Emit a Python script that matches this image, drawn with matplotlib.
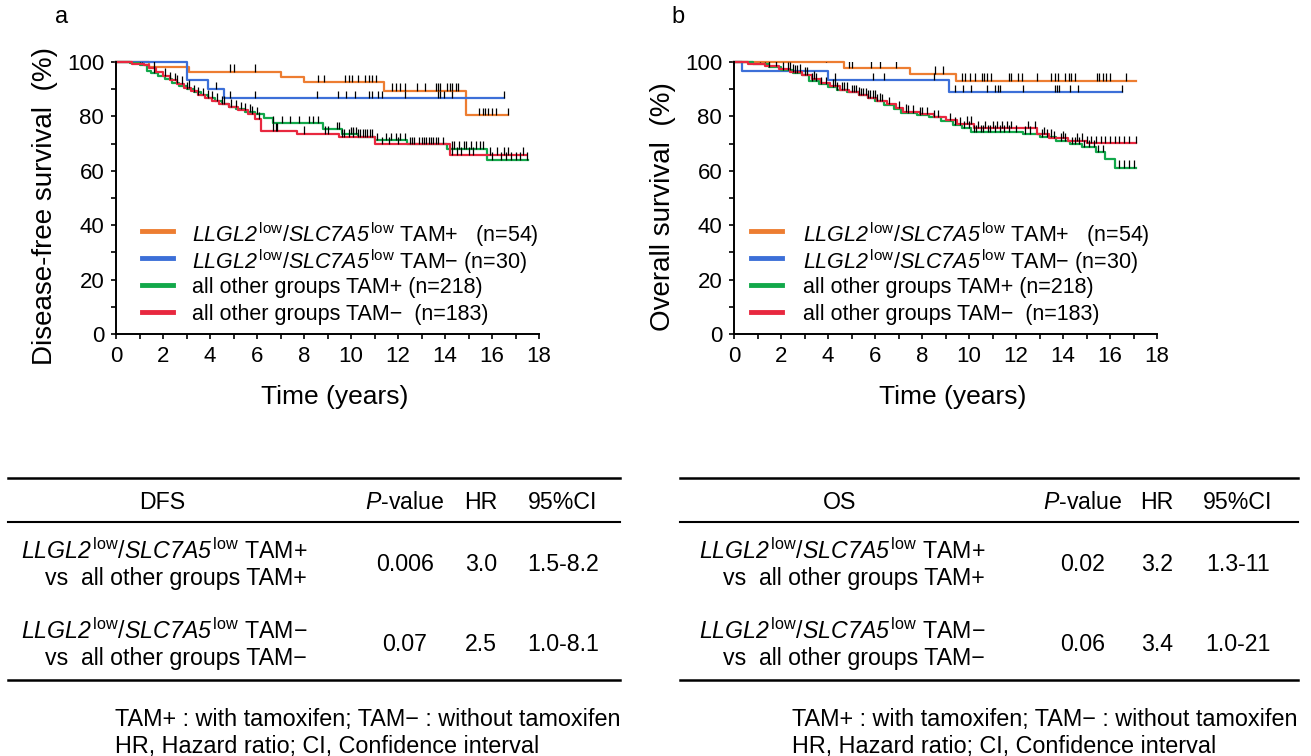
import numpy as np
import matplotlib.pyplot as plt
from matplotlib.lines import Line2D
from matplotlib.ticker import MultipleLocator

plt.rcParams['font.family'] = ['Liberation Sans', 'DejaVu Sans']
# rm is italic so that the digits of gene names are slanted too; sf stays upright
plt.rcParams['mathtext.fontset'] = 'custom'
plt.rcParams['mathtext.rm'] = 'Liberation Sans:italic'
plt.rcParams['mathtext.it'] = 'Liberation Sans:italic'
plt.rcParams['mathtext.sf'] = 'Liberation Sans'
plt.rcParams['mathtext.bf'] = 'Liberation Sans:bold'

W, H = 1311, 756

# ---- panel a: disease-free survival (event time, survival % after event) ----
dfs_orange_t = [1.4, 3.1, 7.0, 8.0, 11.4, 14.9]
dfs_orange_s = [98.1, 96.3, 94.4, 92.6, 89.3, 80.4]
dfs_orange_end = 16.7
dfs_orange_cens = [1.0, 1.1, 1.6, 4.85, 5.0, 5.9, 8.6, 8.85, 9.75, 9.9, 10.05, 10.3,
                   10.6, 10.75, 10.9, 11.05, 11.75, 11.9, 12.1, 12.3, 12.8, 13.15,
                   13.6, 13.7, 13.8, 14.1, 14.2, 14.3, 14.45, 14.55, 15.45, 15.6,
                   15.7, 15.85, 16.0, 16.15, 16.7]

dfs_blue_t = [3.0, 3.9, 4.6]
dfs_blue_s = [93.3, 90.0, 86.7]
dfs_blue_end = 16.5
dfs_blue_cens = [4.25, 4.85, 5.9, 8.55, 9.45, 9.8, 10.15, 10.75, 10.9, 11.15, 11.3,
                 12.3, 13.7, 13.8, 13.95, 14.3, 16.5]

dfs_green_t = [0.6, 1.0, 1.3, 1.5, 1.8, 2.1, 2.4, 2.7, 3.0, 3.3, 3.6, 3.9, 4.2, 4.5,
               4.8, 5.1, 5.5, 5.9, 6.3, 6.7, 8.8, 9.6, 10.3, 11.0, 12.4, 14.1, 15.8]
dfs_green_s = [99.5, 99.0, 96.8, 95.8, 94.8, 93.6, 92.3, 91.0, 89.9, 88.8, 87.7, 86.6,
               85.6, 84.6, 83.6, 82.6, 81.7, 80.7, 79.3, 77.4, 75.2, 73.4, 72.6, 71.2,
               69.7, 68.1, 64.0]
dfs_green_end = 17.55
dfs_green_cens = [1.6, 2.3, 2.6, 3.0, 3.3, 3.7, 4.1, 4.5, 4.9, 5.3, 5.7, 6.0, 6.7,
                  7.05, 7.4, 7.8, 8.2, 8.4, 8.6, 9.4, 9.5, 10.0, 10.1, 10.2, 10.3,
                  10.4, 10.5, 10.6, 10.7, 10.8, 10.9, 11.1, 11.5, 11.7, 11.9, 12.1,
                  12.3, 12.5, 12.7, 12.9, 13.0, 13.2, 13.3, 13.4, 13.5, 13.6, 13.9,
                  14.3, 14.4, 14.6, 14.8, 14.9, 15.1, 15.3, 15.5, 15.6, 16.0, 16.4,
                  16.6, 16.8, 17.0, 17.2, 17.5]

dfs_red_t = [0.7, 1.2, 1.4, 1.7, 2.0, 2.3, 2.6, 2.9, 3.2, 3.5, 3.8, 4.1, 4.4, 4.8,
             5.2, 5.6, 5.9, 6.15, 7.7, 9.5, 11.0, 14.2]
dfs_red_s = [99.4, 98.9, 97.8, 96.4, 94.9, 93.3, 91.9, 90.5, 89.2, 88.0, 86.9, 85.8,
             84.6, 83.4, 82.2, 81.0, 79.0, 74.6, 73.7, 72.5, 69.8, 65.8]
dfs_red_end = 17.45
dfs_red_cens = [2.1, 2.5, 2.8, 3.1, 3.5, 3.9, 4.3, 4.6, 5.1, 5.5, 5.8, 6.1, 6.7, 6.8,
                6.85, 8.0, 8.9, 9.0, 9.6, 9.7, 9.9, 10.1, 11.3, 11.6, 12.0, 12.6,
                13.1, 13.7, 14.3, 14.5, 14.7, 15.0, 15.2, 15.9, 16.2, 16.5, 16.7, 17.3]

# ---- panel b: overall survival ----
os_orange_t = [4.7, 7.5, 9.45]
os_orange_s = [97.9, 95.6, 93.1]
os_orange_end = 17.1
os_orange_cens = [1.1, 1.3, 1.8, 3.9, 4.9, 5.0, 5.85, 6.2, 6.9, 8.55, 8.9, 9.7, 9.85,
                  10.05, 10.25, 10.55, 10.65, 10.75, 10.95, 11.7, 11.8, 12.1, 12.25,
                  12.9, 13.5, 13.65, 13.8, 14.1, 14.25, 14.35, 14.5, 15.45, 15.55,
                  15.7, 15.85, 16.0, 16.7]

os_blue_t = [0.33, 4.0, 9.15]
os_blue_s = [96.7, 93.3, 88.9]
os_blue_end = 16.5
os_blue_cens = [4.3, 5.9, 6.4, 8.5, 9.4, 9.75, 10.1, 10.75, 11.1, 11.25, 11.3, 12.3,
                13.65, 13.75, 13.85, 14.3, 14.65, 16.5]

os_green_t = [0.8, 1.5, 2.0, 2.5, 2.9, 3.2, 3.6, 4.0, 4.4, 4.8, 5.3, 5.7, 6.0, 6.4,
              6.8, 7.1, 7.8, 8.3, 8.8, 9.3, 9.7, 10.1, 12.3, 13.0, 13.7, 14.3, 14.8,
              15.4, 15.8, 16.2]
os_green_s = [99.3, 98.3, 97.1, 96.0, 95.3, 93.0, 91.8, 90.8, 89.8, 88.8, 87.8, 86.8,
              85.6, 84.2, 82.8, 81.4, 80.6, 79.6, 78.2, 76.8, 75.6, 74.2, 73.6, 72.6,
              71.0, 69.8, 68.6, 66.8, 64.2, 61.0]
os_green_end = 17.1
os_green_cens = [1.5, 2.1, 2.3, 2.4, 2.6, 2.7, 3.0, 3.3, 3.5, 3.7, 3.9, 4.2, 4.4, 4.6,
                 4.7, 5.0, 5.2, 5.4, 5.5, 5.6, 5.8, 5.9, 6.1, 6.3, 7.4, 7.6, 7.9, 8.5,
                 8.7, 9.4, 9.6, 9.8, 10.0, 10.2, 10.3, 10.5, 10.6, 10.8, 10.9, 11.1,
                 11.3, 11.5, 11.7, 12.0, 12.4, 12.6, 13.1, 13.3, 13.5, 13.9, 14.1,
                 14.4, 14.5, 14.7, 14.9, 15.1, 15.3, 15.5, 15.7, 16.4, 16.6, 16.8, 17.0]

os_red_t = [0.6, 1.3, 1.9, 2.4, 2.9, 3.3, 3.7, 4.1, 4.5, 4.9, 5.3, 5.7, 6.1, 6.5,
            6.9, 7.2, 7.9, 8.5, 9.0, 9.5, 10.2, 12.9, 13.4, 14.2, 15.0]
os_red_s = [99.4, 98.4, 97.3, 96.3, 95.3, 93.9, 92.3, 91.0, 89.8, 88.8, 87.9, 86.9,
            85.8, 84.5, 83.0, 81.6, 80.7, 79.6, 78.5, 77.2, 75.6, 73.4, 72.0, 71.0, 70.1]
os_red_end = 17.1
os_red_cens = [1.8, 2.5, 2.8, 3.1, 3.4, 4.3, 4.8, 5.1, 5.3, 5.7, 6.0, 6.2, 6.6, 7.0,
               7.3, 8.0, 8.2, 9.2, 9.9, 10.1, 10.4, 10.7, 11.0, 11.2, 11.4, 11.6,
               11.8, 12.5, 12.8, 13.2, 13.6, 14.0, 14.6, 14.8, 15.0, 15.2, 15.4,
               15.6, 15.8, 16.0, 16.2, 16.4, 16.6, 16.8, 17.1]

GENE = r"$\mathrm{LLGL2}^{\,\mathsf{low}}$/$\mathrm{SLC7A5}^{\,\mathsf{low}}$"
group_labels = [
    GENE + " TAM+   (n=54)",
    GENE + " TAM− (n=30)",
    "all other groups TAM+ (n=218)",
    "all other groups TAM−  (n=183)",
]
colors = ['#ED7D31', '#3C6FD8', '#12A84A', '#E8283F']

# ---- tables ----
row_names = [
    (GENE + " TAM+", "vs  all other groups TAM+"),
    (GENE + " TAM−", "vs  all other groups TAM−"),
]
col_heads = [r"$\mathrm{P}$-value", "HR", "95%CI"]
dfs_pvalue = ["0.006", "0.07"]
dfs_hr = ["3.0", "2.5"]
dfs_ci = ["1.5-8.2", "1.0-8.1"]
os_pvalue = ["0.02", "0.06"]
os_hr = ["3.2", "3.4"]
os_ci = ["1.3-11", "1.0-21"]
footnotes = ["TAM+ : with tamoxifen; TAM− : without tamoxifen",
             "HR, Hazard ratio; CI, Confidence interval"]


def step_value(times, surv, t):
    idx = np.searchsorted(times, t, side='right') - 1
    vals = np.concatenate([[100.0], surv])
    return vals[idx + 1]


def km_curve(ax, times, surv, end, cens, color):
    t = np.concatenate([[0], times, [end]])
    s = np.concatenate([[100], surv, [surv[-1]]])
    ax.step(t, s, where='post', color=color, lw=1.6, clip_on=False, zorder=2)
    cy = step_value(np.array(times), np.array(surv), np.array(cens))
    ax.vlines(cens, cy, cy + 2.8, colors='black', lw=0.9, zorder=3)


def panel(ax, groups, ylabel, leg_x):
    for (times, surv, end, cens), color in zip(groups, colors):
        km_curve(ax, times, surv, end, cens, color)
    ax.set_xlim(0, 18)
    ax.set_ylim(0, 100)
    ax.spines['top'].set_visible(False)
    ax.spines['right'].set_visible(False)
    ax.spines['left'].set_linewidth(1.4)
    ax.spines['bottom'].set_linewidth(1.4)
    ax.xaxis.set_major_locator(MultipleLocator(2))
    ax.xaxis.set_minor_locator(MultipleLocator(1))
    ax.yaxis.set_major_locator(MultipleLocator(20))
    ax.yaxis.set_minor_locator(MultipleLocator(10))
    ax.tick_params(which='both', direction='out', length=3.5, width=1.2, labelsize=16)
    ax.tick_params(axis='x', pad=5)
    ax.tick_params(axis='y', pad=5)
    ax.set_xlabel('Time (years)', fontsize=19, va='center')
    ax.xaxis.set_label_coords(0.516, -0.232)
    ax.set_ylabel(ylabel, fontsize=20, va='center')
    ax.yaxis.set_label_coords(-0.168, 0.47)
    x0, x1, xt = leg_x
    for i, (lab, col) in enumerate(zip(group_labels, colors)):
        y = 0.379 - i * 0.0993
        ax.add_line(Line2D([x0, x1], [y, y], transform=ax.transAxes, color=col,
                           lw=3.5, clip_on=False))
        ax.text(xt, y, lab, transform=ax.transAxes, fontsize=15.5, va='center_baseline')


def hline(fig, x0, x1, y, lw):
    fig.add_artist(Line2D([x0 / W, x1 / W], [1 - y / H, 1 - y / H], color='black', lw=lw))


def ftext(fig, x, y, s, size=16.7, **kw):
    fig.text(x / W, 1 - y / H, s, fontsize=size, va='center_baseline', **kw)


def table(fig, head, pvals, hrs, cis, left, right, lab_right, cols, foot_x):
    hline(fig, left, right, 478, 1.8)
    hline(fig, left, right, 522, 1.5)
    hline(fig, left, right, 680, 1.8)
    ftext(fig, cols[0], 500, head, ha='center')
    for cx, h in zip(cols[1:], col_heads):
        ftext(fig, cx, 500, h, ha='center')
    for r, yv in enumerate([562, 642]):
        ftext(fig, lab_right, yv - 13, row_names[r][0], ha='right')
        ftext(fig, lab_right, yv + 14, row_names[r][1], ha='right')
        for cx, v in zip(cols[1:], [pvals[r], hrs[r], cis[r]]):
            ftext(fig, cx, yv, v, ha='center')
    ftext(fig, foot_x, 717, footnotes[0], size=16.8, ha='left')
    ftext(fig, foot_x, 744, footnotes[1], size=16.8, ha='left')


fig = plt.figure(figsize=(W / 100, H / 100), dpi=100)
ax_a = fig.add_axes([116 / W, 1 - 334 / H, 423 / W, 272 / H])
ax_b = fig.add_axes([734 / W, 1 - 334 / H, 423 / W, 272 / H])

dfs_groups = [
    (dfs_orange_t, dfs_orange_s, dfs_orange_end, dfs_orange_cens),
    (dfs_blue_t, dfs_blue_s, dfs_blue_end, dfs_blue_cens),
    (dfs_green_t, dfs_green_s, dfs_green_end, dfs_green_cens),
    (dfs_red_t, dfs_red_s, dfs_red_end, dfs_red_cens),
]
os_groups = [
    (os_orange_t, os_orange_s, os_orange_end, os_orange_cens),
    (os_blue_t, os_blue_s, os_blue_end, os_blue_cens),
    (os_green_t, os_green_s, os_green_end, os_green_cens),
    (os_red_t, os_red_s, os_red_end, os_red_cens),
]

panel(ax_a, dfs_groups, 'Disease-free survival  (%)', (0.062, 0.134, 0.180))
panel(ax_b, os_groups, 'Overall survival  (%)', (0.040, 0.113, 0.163))

fig.text(62 / W, 1 - 17 / H, 'a', fontsize=17, ha='center', va='center')
fig.text(678 / W, 1 - 17 / H, 'b', fontsize=17, ha='center', va='center')

table(fig, 'DFS', dfs_pvalue, dfs_hr, dfs_ci, 8, 620, 307,
      [162, 405, 481, 563], 115)
table(fig, 'OS', os_pvalue, os_hr, os_ci, 680, 1298, 985,
      [840, 1083, 1157, 1238], 792)

fig.savefig('out.png', dpi=100)
